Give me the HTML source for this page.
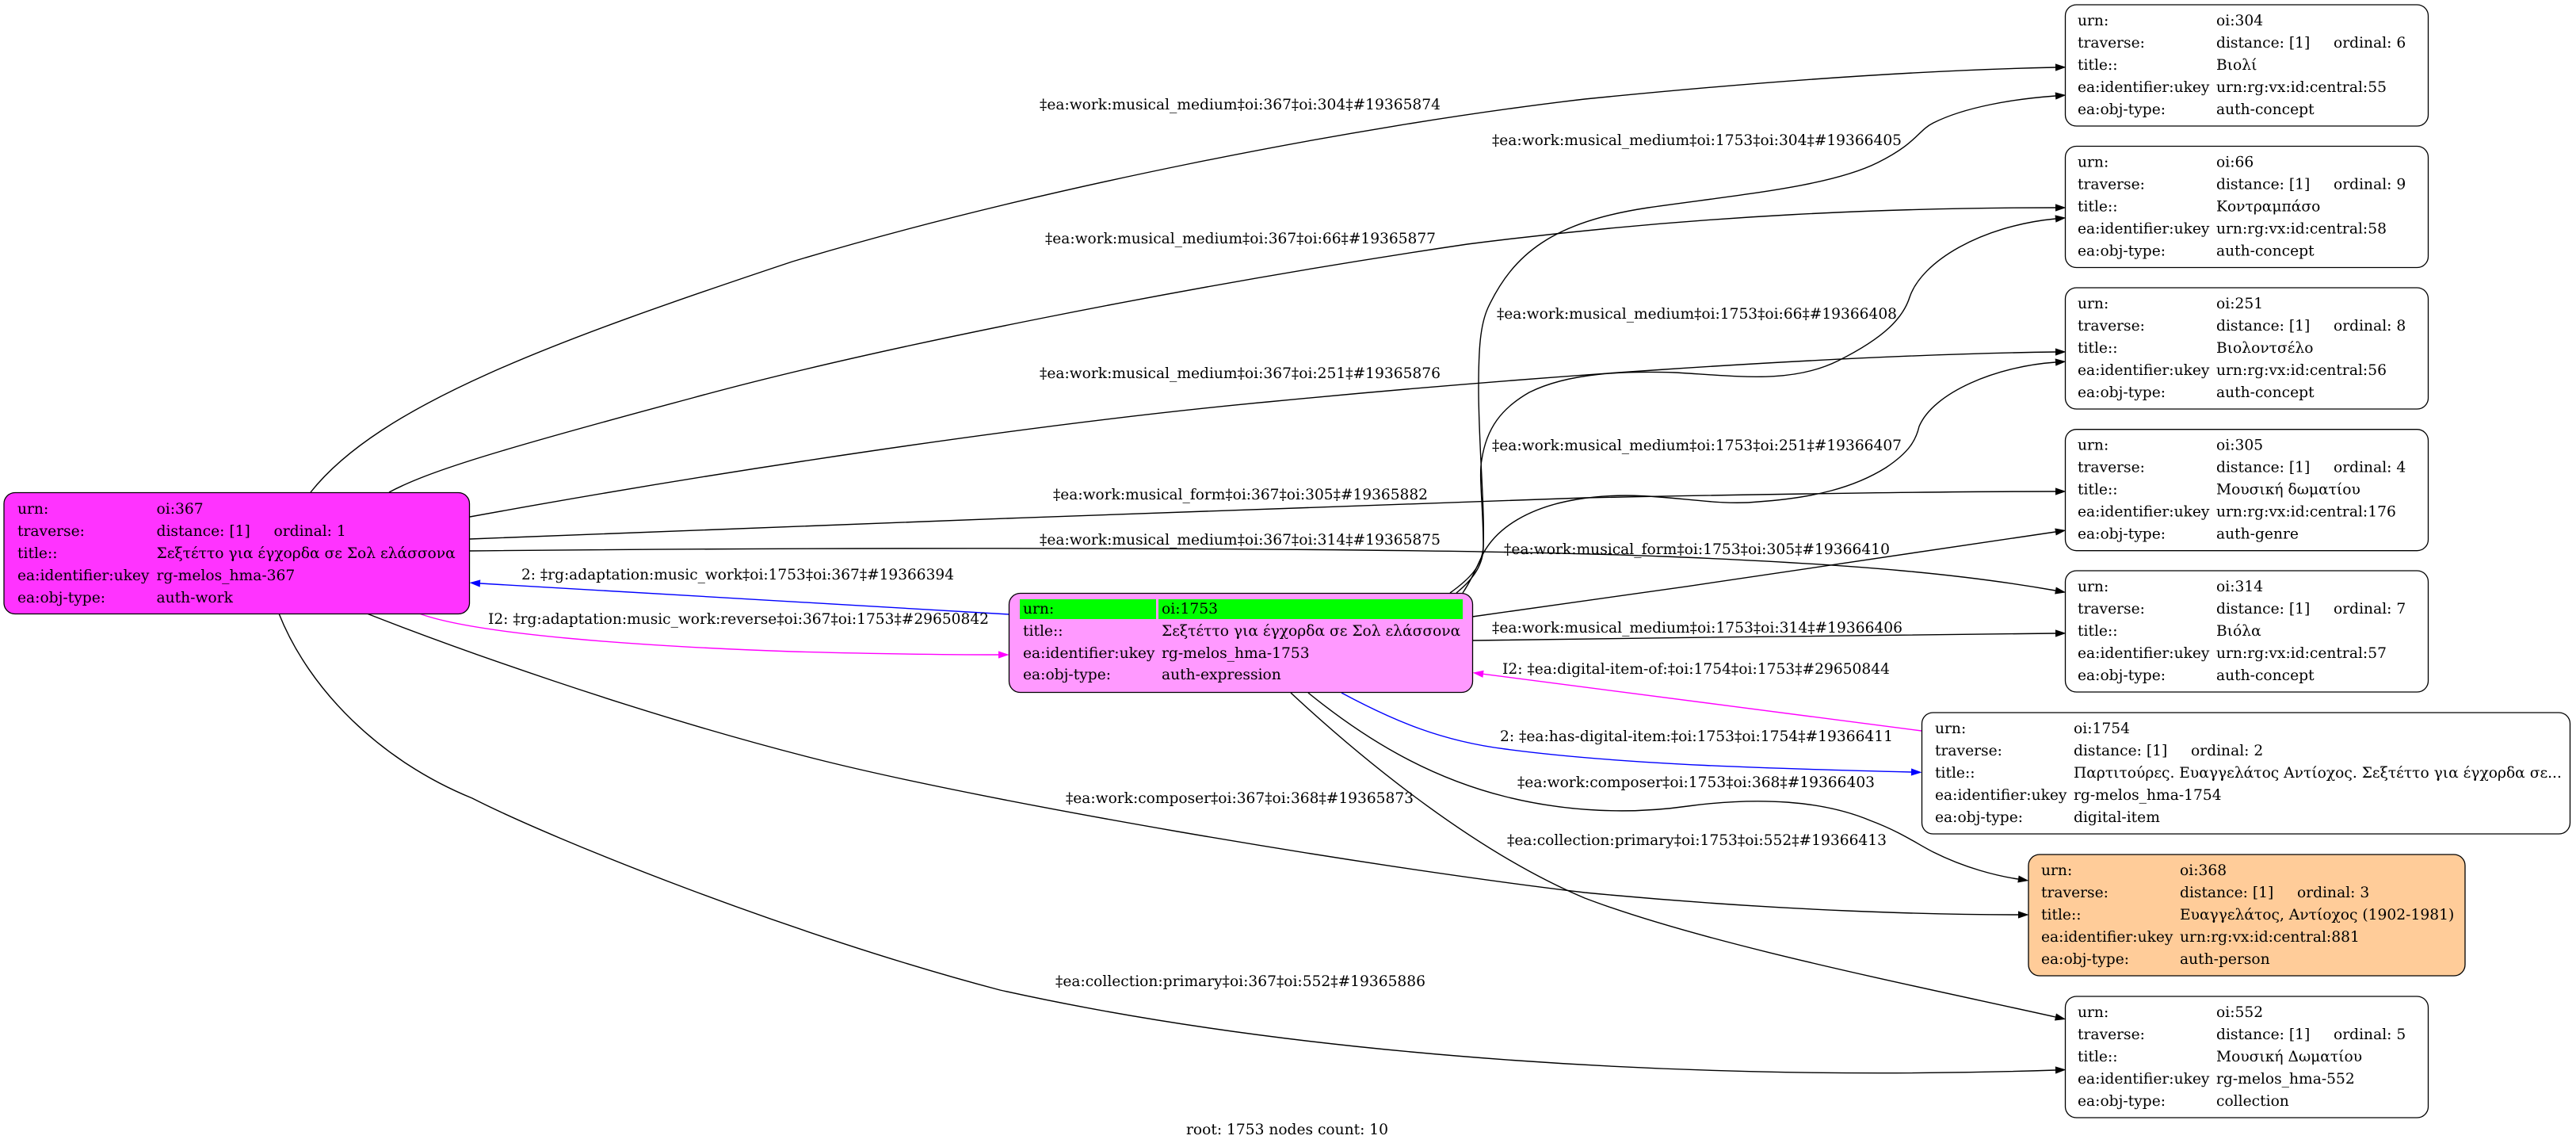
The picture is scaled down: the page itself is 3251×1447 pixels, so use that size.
<!DOCTYPE html>
<html>
<head>
<meta charset="utf-8">
<style>
html,body{margin:0;padding:0;background:#fff;}
svg{display:block;}
text{font-family:"DejaVu Serif","Liberation Serif",serif;font-size:18.67px;fill:#000;}
</style>
</head>
<body>
<svg width="3251" height="1447" viewBox="0 0 3251 1447" xmlns="http://www.w3.org/2000/svg">
<defs>
<marker id="ak" markerUnits="userSpaceOnUse" markerWidth="14" markerHeight="10" refX="0" refY="5" orient="auto" overflow="visible"><path d="M0,0.4 L13.5,5 L0,9.6 z" fill="#000"/></marker>
<marker id="ab" markerUnits="userSpaceOnUse" markerWidth="14" markerHeight="10" refX="0" refY="5" orient="auto" overflow="visible"><path d="M0,0.4 L13.5,5 L0,9.6 z" fill="#0000ff"/></marker>
<marker id="am" markerUnits="userSpaceOnUse" markerWidth="14" markerHeight="10" refX="0" refY="5" orient="auto" overflow="visible"><path d="M0,0.4 L13.5,5 L0,9.6 z" fill="#ff00ff"/></marker>
</defs>
<rect width="3251" height="1447" fill="#fff"/>

<!-- edges -->
<g fill="none" stroke="#000" stroke-width="1.4">
<!-- 367 -> 304 -->
<path marker-end="url(#ak)" d="M392,621 C480,510 700,430 1000,330 C1300,240 1700,160 2000,125 C2250,100 2450,88 2594,85"/>
<!-- 1753 -> 304 -->
<path marker-end="url(#ak)" d="M1830,748 C1855,730 1870,715 1872,690 C1874,640 1866,560 1866,490 C1866,440 1868,410 1878,388 C1910,320 1960,280 2080,262 C2200,245 2310,235 2370,205 C2420,180 2420,165 2440,155 C2480,135 2540,125 2594,121"/>
<!-- 367 -> 66 -->
<path marker-end="url(#ak)" d="M491,621 C540,595 620,570 874,502 C1100,440 1500,360 1852,308 C2150,270 2400,262 2594,262"/>
<!-- 1753 -> 66 -->
<path marker-end="url(#ak)" d="M1838,748 C1860,730 1872,712 1872,690 C1872,640 1866,600 1870,580 C1876,540 1895,515 1930,495 C1980,470 2050,468 2114,470 C2190,474 2260,485 2320,455 C2380,425 2402,400 2410,375 C2425,330 2500,285 2594,276"/>
<!-- 367 -> 251 -->
<path marker-end="url(#ak)" d="M593,652 C900,596 1300,535 1600,507 C1900,478 2300,448 2594,444"/>
<!-- 1753 -> 251 -->
<path marker-end="url(#ak)" d="M1846,748 C1858,730 1865,712 1872,698 C1890,665 1930,640 1990,630 C2080,615 2150,640 2219,633 C2290,628 2340,615 2380,590 C2410,570 2418,555 2422,538 C2440,495 2520,462 2594,457"/>
<!-- 367 -> 305 -->
<path marker-end="url(#ak)" d="M593,680 C1000,665 1600,640 2000,628 C2300,622 2500,620 2594,620"/>
<!-- 367 -> 314 -->
<path marker-end="url(#ak)" d="M593,695 C1100,690 1800,690 2100,702 C2350,712 2480,725 2594,745"/>
<!-- 1753 -> 305 -->
<path marker-end="url(#ak)" d="M1858,778 C2100,745 2400,700 2594,671"/>
<!-- 1753 -> 314 -->
<path marker-end="url(#ak)" d="M1859,808 C2100,805 2400,800 2594,799"/>
<!-- 1753 -> 368 -->
<path marker-end="url(#ak)" d="M1651,874 C1720,930 1800,980 1900,1005 C1980,1025 2060,1027 2130,1017 C2220,1005 2300,1010 2360,1035 C2400,1050 2420,1065 2440,1075 C2480,1095 2520,1105 2547,1109"/>
<!-- 367 -> 368 -->
<path marker-end="url(#ak)" d="M463,774 C560,812 800,900 1040,960 C1250,1012 1700,1090 2000,1126 C2250,1150 2450,1154 2547,1154"/>
<!-- 1753 -> 552 -->
<path marker-end="url(#ak)" d="M1629,874 C1700,940 1850,1070 2000,1133 C2150,1190 2400,1240 2594,1283"/>
<!-- 367 -> 552 -->
<path marker-end="url(#ak)" d="M352,774 C390,870 480,960 596,1007 C700,1060 1000,1180 1262,1249 C1650,1335 2150,1365 2594,1350"/>
</g>
<!-- blue / magenta edges -->
<path fill="none" stroke="#0000ff" stroke-width="1.4" marker-end="url(#ab)" d="M1273,775 C1000,759 800,748 606,736"/>
<path fill="none" stroke="#ff00ff" stroke-width="1.4" marker-end="url(#am)" d="M529,774 C600,800 800,815 1000,822 C1150,826 1230,826 1260,826"/>
<path fill="none" stroke="#ff00ff" stroke-width="1.4" marker-end="url(#am)" d="M2425,922 L1872,850.3"/>
<path fill="none" stroke="#0000ff" stroke-width="1.4" marker-end="url(#ab)" d="M1693,874 C1760,910 1820,935 1900,945 C2050,965 2250,970 2412,974"/>

<!-- edge labels -->
<g>
<text x="1312" y="138" textLength="506" lengthAdjust="spacingAndGlyphs">‡ea:work:musical_medium‡oi:367‡oi:304‡#19365874</text>
<text x="1883" y="183" textLength="517" lengthAdjust="spacingAndGlyphs">‡ea:work:musical_medium‡oi:1753‡oi:304‡#19366405</text>
<text x="1319" y="307" textLength="493" lengthAdjust="spacingAndGlyphs">‡ea:work:musical_medium‡oi:367‡oi:66‡#19365877</text>
<text x="1889" y="402" textLength="505" lengthAdjust="spacingAndGlyphs">‡ea:work:musical_medium‡oi:1753‡oi:66‡#19366408</text>
<text x="1312" y="477" textLength="506" lengthAdjust="spacingAndGlyphs">‡ea:work:musical_medium‡oi:367‡oi:251‡#19365876</text>
<text x="1883" y="568" textLength="517" lengthAdjust="spacingAndGlyphs">‡ea:work:musical_medium‡oi:1753‡oi:251‡#19366407</text>
<text x="1329" y="630" textLength="473" lengthAdjust="spacingAndGlyphs">‡ea:work:musical_form‡oi:367‡oi:305‡#19365882</text>
<text x="1312" y="687" textLength="506" lengthAdjust="spacingAndGlyphs">‡ea:work:musical_medium‡oi:367‡oi:314‡#19365875</text>
<text x="1898" y="699" textLength="487" lengthAdjust="spacingAndGlyphs">‡ea:work:musical_form‡oi:1753‡oi:305‡#19366410</text>
<text x="658" y="731" textLength="546" lengthAdjust="spacingAndGlyphs">2: ‡rg:adaptation:music_work‡oi:1753‡oi:367‡#19366394</text>
<text x="616" y="787" textLength="632" lengthAdjust="spacingAndGlyphs">I2: ‡rg:adaptation:music_work:reverse‡oi:367‡oi:1753‡#29650842</text>
<text x="1883" y="798" textLength="518" lengthAdjust="spacingAndGlyphs">‡ea:work:musical_medium‡oi:1753‡oi:314‡#19366406</text>
<text x="1896" y="850" textLength="489" lengthAdjust="spacingAndGlyphs">I2: ‡ea:digital-item-of:‡oi:1754‡oi:1753‡#29650844</text>
<text x="1893" y="935" textLength="496" lengthAdjust="spacingAndGlyphs">2: ‡ea:has-digital-item:‡oi:1753‡oi:1754‡#19366411</text>
<text x="1915" y="993" textLength="451" lengthAdjust="spacingAndGlyphs">‡ea:work:composer‡oi:1753‡oi:368‡#19366403</text>
<text x="1345" y="1013" textLength="439" lengthAdjust="spacingAndGlyphs">‡ea:work:composer‡oi:367‡oi:368‡#19365873</text>
<text x="1902" y="1066" textLength="479" lengthAdjust="spacingAndGlyphs">‡ea:collection:primary‡oi:1753‡oi:552‡#19366413</text>
<text x="1332" y="1244" textLength="467" lengthAdjust="spacingAndGlyphs">‡ea:collection:primary‡oi:367‡oi:552‡#19365886</text>
<text x="1497" y="1431" textLength="255" lengthAdjust="spacingAndGlyphs">root: 1753 nodes count: 10</text>
</g>

<!-- node 367 -->
<g>
<rect x="5" y="621.5" width="587.5" height="153" rx="14" ry="14" fill="#ff33ff" stroke="#000" stroke-width="1.3"/>
<text x="22" y="648">urn:</text><text x="197.5" y="648">oi:367</text>
<text x="22" y="676">traverse:</text><text x="197.5" y="676">distance: [1]</text><text x="345.5" y="676">ordinal: 1</text>
<text x="22" y="704">title::</text><text x="197.5" y="704">Σεξτέττο για έγχορδα σε Σολ ελάσσονα</text>
<text x="22" y="732">ea:identifier:ukey</text><text x="197.5" y="732">rg-melos_hma-367</text>
<text x="22" y="760">ea:obj-type:</text><text x="197.5" y="760">auth-work</text>
</g>

<!-- node 1753 -->
<g>
<rect x="1273.5" y="748.5" width="585" height="125" rx="14" ry="14" fill="#ff99ff" stroke="#000" stroke-width="1.3"/>
<rect x="1287" y="756" width="172" height="25" fill="#00ff00"/>
<rect x="1462" y="756" width="384" height="25" fill="#00ff00"/>
<text x="1291" y="774">urn:</text><text x="1466" y="774">oi:1753</text>
<text x="1291" y="802">title::</text><text x="1466" y="802">Σεξτέττο για έγχορδα σε Σολ ελάσσονα</text>
<text x="1291" y="830">ea:identifier:ukey</text><text x="1466" y="830">rg-melos_hma-1753</text>
<text x="1291" y="857">ea:obj-type:</text><text x="1466" y="857">auth-expression</text>
</g>

<!-- node 304 -->
<g>
<rect x="2606.5" y="6" width="458" height="153" rx="14" ry="14" fill="#fff" stroke="#000" stroke-width="1.3"/>
<text x="2622" y="32">urn:</text><text x="2797" y="32">oi:304</text>
<text x="2622" y="60">traverse:</text><text x="2797" y="60">distance: [1]</text><text x="2945" y="60">ordinal: 6</text>
<text x="2622" y="88">title::</text><text x="2797" y="88">Βιολί</text>
<text x="2622" y="116">ea:identifier:ukey</text><text x="2797" y="116">urn:rg:vx:id:central:55</text>
<text x="2622" y="144">ea:obj-type:</text><text x="2797" y="144">auth-concept</text>
</g>

<!-- node 66 -->
<g>
<rect x="2606.5" y="184.5" width="458" height="153" rx="14" ry="14" fill="#fff" stroke="#000" stroke-width="1.3"/>
<text x="2622" y="210.5">urn:</text><text x="2797" y="210.5">oi:66</text>
<text x="2622" y="238.5">traverse:</text><text x="2797" y="238.5">distance: [1]</text><text x="2945" y="238.5">ordinal: 9</text>
<text x="2622" y="266.5">title::</text><text x="2797" y="266.5">Κοντραμπάσο</text>
<text x="2622" y="294.5">ea:identifier:ukey</text><text x="2797" y="294.5">urn:rg:vx:id:central:58</text>
<text x="2622" y="322.5">ea:obj-type:</text><text x="2797" y="322.5">auth-concept</text>
</g>

<!-- node 251 -->
<g>
<rect x="2606.5" y="363" width="458" height="153" rx="14" ry="14" fill="#fff" stroke="#000" stroke-width="1.3"/>
<text x="2622" y="389">urn:</text><text x="2797" y="389">oi:251</text>
<text x="2622" y="417">traverse:</text><text x="2797" y="417">distance: [1]</text><text x="2945" y="417">ordinal: 8</text>
<text x="2622" y="445">title::</text><text x="2797" y="445">Βιολοντσέλο</text>
<text x="2622" y="473">ea:identifier:ukey</text><text x="2797" y="473">urn:rg:vx:id:central:56</text>
<text x="2622" y="501">ea:obj-type:</text><text x="2797" y="501">auth-concept</text>
</g>

<!-- node 305 -->
<g>
<rect x="2606.5" y="541.7" width="458" height="153" rx="14" ry="14" fill="#fff" stroke="#000" stroke-width="1.3"/>
<text x="2622" y="567.7">urn:</text><text x="2797" y="567.7">oi:305</text>
<text x="2622" y="595.7">traverse:</text><text x="2797" y="595.7">distance: [1]</text><text x="2945" y="595.7">ordinal: 4</text>
<text x="2622" y="623.7">title::</text><text x="2797" y="623.7">Μουσική δωματίου</text>
<text x="2622" y="651.7">ea:identifier:ukey</text><text x="2797" y="651.7">urn:rg:vx:id:central:176</text>
<text x="2622" y="679.7">ea:obj-type:</text><text x="2797" y="679.7">auth-genre</text>
</g>

<!-- node 314 -->
<g>
<rect x="2606.5" y="720" width="458" height="153" rx="14" ry="14" fill="#fff" stroke="#000" stroke-width="1.3"/>
<text x="2622" y="746">urn:</text><text x="2797" y="746">oi:314</text>
<text x="2622" y="774">traverse:</text><text x="2797" y="774">distance: [1]</text><text x="2945" y="774">ordinal: 7</text>
<text x="2622" y="802">title::</text><text x="2797" y="802">Βιόλα</text>
<text x="2622" y="830">ea:identifier:ukey</text><text x="2797" y="830">urn:rg:vx:id:central:57</text>
<text x="2622" y="858">ea:obj-type:</text><text x="2797" y="858">auth-concept</text>
</g>

<!-- node 1754 -->
<g>
<rect x="2425.5" y="899" width="818" height="153" rx="14" ry="14" fill="#fff" stroke="#000" stroke-width="1.3"/>
<text x="2442" y="925">urn:</text><text x="2617" y="925">oi:1754</text>
<text x="2442" y="953">traverse:</text><text x="2617" y="953">distance: [1]</text><text x="2765" y="953">ordinal: 2</text>
<text x="2442" y="981">title::</text><text x="2617" y="981">Παρτιτούρες. Ευαγγελάτος Αντίοχος. Σεξτέττο για έγχορδα σε...</text>
<text x="2442" y="1009">ea:identifier:ukey</text><text x="2617" y="1009">rg-melos_hma-1754</text>
<text x="2442" y="1037">ea:obj-type:</text><text x="2617" y="1037">digital-item</text>
</g>

<!-- node 368 -->
<g>
<rect x="2560" y="1078" width="551" height="153" rx="14" ry="14" fill="#ffcc99" stroke="#000" stroke-width="1.3"/>
<text x="2576" y="1104">urn:</text><text x="2751" y="1104">oi:368</text>
<text x="2576" y="1132">traverse:</text><text x="2751" y="1132">distance: [1]</text><text x="2899" y="1132">ordinal: 3</text>
<text x="2576" y="1160">title::</text><text x="2751" y="1160">Ευαγγελάτος, Αντίοχος (1902-1981)</text>
<text x="2576" y="1188">ea:identifier:ukey</text><text x="2751" y="1188">urn:rg:vx:id:central:881</text>
<text x="2576" y="1216">ea:obj-type:</text><text x="2751" y="1216">auth-person</text>
</g>

<!-- node 552 -->
<g>
<rect x="2606.5" y="1257" width="458" height="153" rx="14" ry="14" fill="#fff" stroke="#000" stroke-width="1.3"/>
<text x="2622" y="1283">urn:</text><text x="2797" y="1283">oi:552</text>
<text x="2622" y="1311">traverse:</text><text x="2797" y="1311">distance: [1]</text><text x="2945" y="1311">ordinal: 5</text>
<text x="2622" y="1339">title::</text><text x="2797" y="1339">Μουσική Δωματίου</text>
<text x="2622" y="1367">ea:identifier:ukey</text><text x="2797" y="1367">rg-melos_hma-552</text>
<text x="2622" y="1395">ea:obj-type:</text><text x="2797" y="1395">collection</text>
</g>
</svg>
</body>
</html>
